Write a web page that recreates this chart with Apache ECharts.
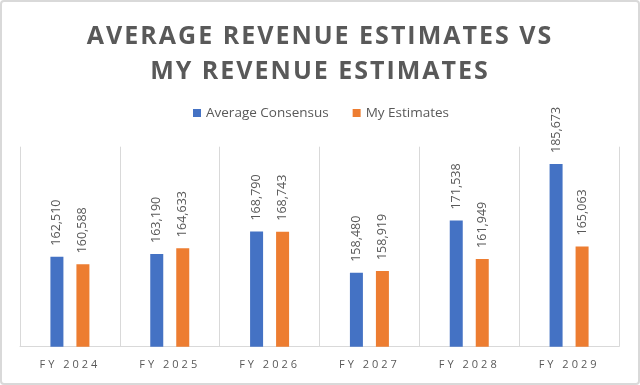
<!DOCTYPE html>
<html>
<head>
<meta charset="utf-8">
<script src="https://cdn.jsdelivr.net/npm/echarts@6/dist/echarts.min.js"></script>
<style>
html,body{margin:0;padding:0;background:#fff;}
#chart{width:640px;height:385px;}
</style>
</head>
<body>
<div id="chart"></div>
<script>
const categories = ['FY 2024', 'FY 2025', 'FY 2026', 'FY 2027', 'FY 2028', 'FY 2029'];
const averageConsensus = [162510, 163190, 168790, 158480, 171538, 185673];
const myEstimates = [160588, 164633, 168743, 158919, 161949, 165063];
const seriesNames = ['Average Consensus', 'My Estimates'];
const titleText = 'AVERAGE REVENUE ESTIMATES VS\nMY REVENUE ESTIMATES';

// letter spacing for the title and category labels (canvas)
const origFill = CanvasRenderingContext2D.prototype.fillText;
CanvasRenderingContext2D.prototype.fillText = function (t, x, y, m) {
  const f = this.font || '';
  if ('letterSpacing' in this) {
    if (f.indexOf('25px') >= 0) this.letterSpacing = '2px';
    else if (f.indexOf('11px') >= 0) this.letterSpacing = '3px';
    else this.letterSpacing = '0px';
  }
  return m === undefined ? origFill.call(this, t, x, y) : origFill.call(this, t, x, y, m);
};

const chart = echarts.init(document.getElementById('chart'), null, {renderer: 'canvas'});
const FONT = '"Open Sans", "Liberation Sans", sans-serif';
const GRAY = '#595959';
const labelOpt = {
  show: true,
  position: 'top',
  rotate: 90,
  align: 'left',
  verticalAlign: 'middle',
  distance: 11,
  color: GRAY,
  fontSize: 12.5,
  fontFamily: FONT,
  formatter: p => p.value.toLocaleString('en-US')
};
chart.setOption({
  animation: false,
  backgroundColor: '#fff',
  graphic: [{
    type: 'rect',
    shape: {x: 1, y: 1, width: 638, height: 383, r: 3},
    style: {fill: 'none', stroke: '#d9d9d9', lineWidth: 2},
    z: 100, silent: true
  }],
  title: {
    text: titleText,
    left: 'center',
    top: 14,
    textStyle: {fontFamily: FONT, fontSize: 25, fontWeight: 'bold', color: GRAY, lineHeight: 35}
  },
  legend: {
    data: seriesNames,
    left: 193,
    top: 106,
    padding: 0,
    itemWidth: 8,
    itemHeight: 8,
    itemGap: 24,
    icon: 'rect',
    textStyle: {fontFamily: FONT, fontSize: 13.5, color: GRAY}
  },
  grid: {left: 20, right: 21, top: 146.7, bottom: 38.3},
  xAxis: {
    type: 'category',
    data: categories,
    axisLine: {show: true, lineStyle: {color: '#d9d9d9', width: 1}},
    axisTick: {show: false},
    splitLine: {show: true, lineStyle: {color: '#d9d9d9', width: 1}},
    axisLabel: {fontFamily: FONT, fontSize: 11, color: GRAY, margin: 13}
  },
  yAxis: {
    type: 'value',
    min: 140000,
    max: 190000,
    interval: 10000,
    show: false,
    splitLine: {show: false}
  },
  series: [
    {name: seriesNames[0], type: 'bar', data: averageConsensus, barWidth: 13, barGap: '100%',
     itemStyle: {color: '#4472C4'}, label: labelOpt},
    {name: seriesNames[1], type: 'bar', data: myEstimates, barWidth: 13, barGap: '100%',
     itemStyle: {color: '#ED7D31'}, label: labelOpt}
  ]
});
</script>
</body>
</html>
